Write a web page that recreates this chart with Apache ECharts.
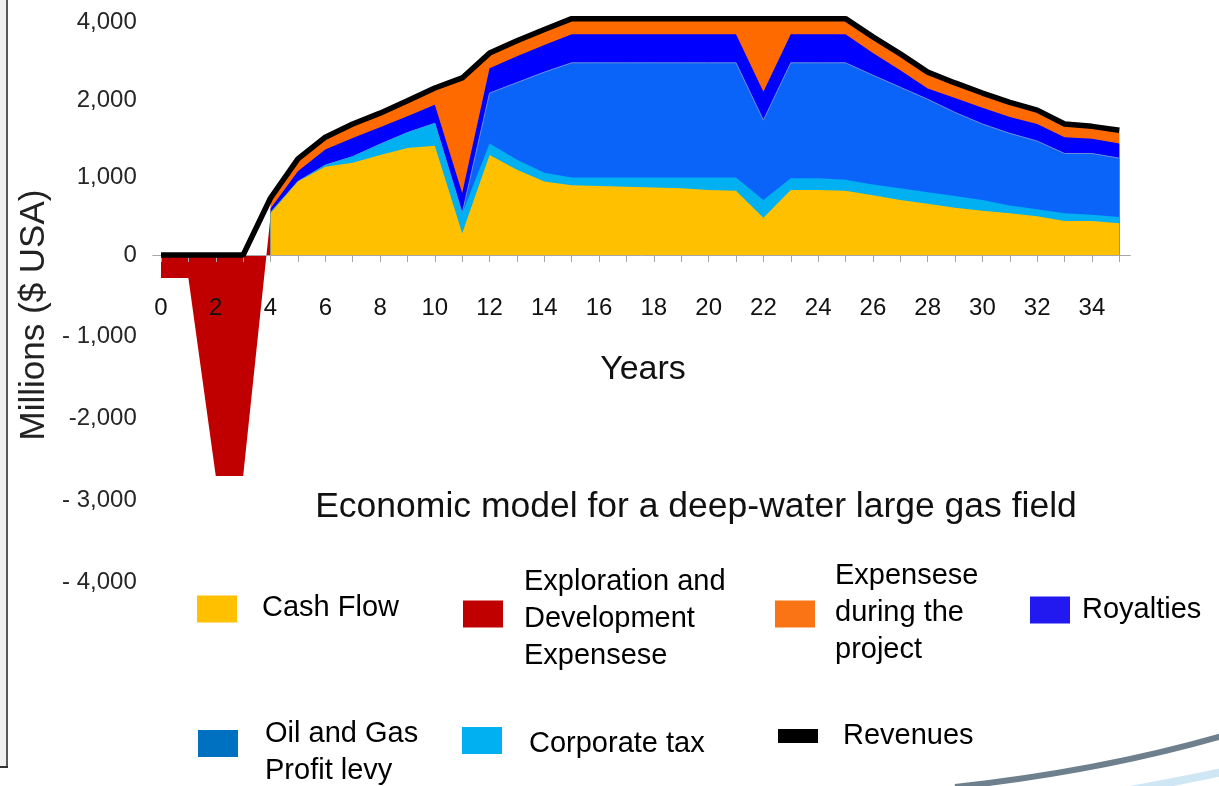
<!DOCTYPE html>
<html>
<head>
<meta charset="utf-8">
<script src="https://cdn.jsdelivr.net/npm/echarts@6/dist/echarts.min.js"></script>
<style>
html,body{margin:0;padding:0;background:#ffffff;}
#chart{width:1219px;height:786px;}
</style>
</head>
<body>
<div id="chart"></div>
<script>
// ---------------- DATA (millions of $ USA, years 0..35) ----------------
const years = [0,1,2,3,4,5,6,7,8,9,10,11,12,13,14,15,16,17,18,19,20,21,22,23,24,25,26,27,28,29,30,31,32,33,34,35];
const xLabelYears = [0,2,4,6,8,10,12,14,16,18,20,22,24,26,28,30,32,34];

const cashFlow = [null,null,null,null,540,950,1140,1190,1290,1380,1410,280,1290,1100,950,900,890,880,870,860,840,830,480,840,840,830,770,710,660,610,570,540,500,440,440,410];
const corporateTax = [null,null,null,null,10,0,20,80,140,200,290,260,150,130,110,100,110,120,130,140,160,170,230,150,150,140,140,150,150,150,140,100,90,100,80,80];
const profitLevy = [null,null,null,null,0,0,0,0,0,0,0,0,740,1220,1660,1960,1960,1960,1960,1960,1960,1960,1030,1970,1970,1990,1730,1470,1210,1080,980,930,880,770,790,760];
const royalties = [null,null,null,null,50,130,200,240,220,210,240,260,640,680,700,740,740,740,740,740,740,740,470,740,740,740,570,440,280,210,210,210,220,210,190,190];
const projectExpenses = [null,null,null,null,135,160,160,180,180,200,370,1770,390,400,400,400,400,400,400,400,400,400,1890,400,400,400,420,420,420,390,280,190,180,170,160,170];
const explorationDev = [-280,-280,-2700,-2700,500,null,null,null,null,null,null,null,null,null,null,null,null,null,null,null,null,null,null,null,null,null,null,null,null,null,null,null,null,null,null,null];
const revenues = [0,0,0,0,735,1240,1520,1690,1830,1990,2310,2570,3210,3530,3820,4100,4100,4100,4100,4100,4100,4100,4100,4100,4100,4100,3630,3190,2720,2440,2180,1970,1870,1690,1660,1610];

const yTickValues = [-4000,-3000,-2000,-1000,0,1000,2000,4000];
const yTickLabels = ['- 4,000','- 3,000','-2,000','- 1,000','0','1,000','2,000','4,000'];

const seriesNames = ['Cash Flow','Exploration and Development Expensese','Expensese during the project','Royalties','Oil and Gas Profit levy','Corporate tax','Revenues'];
const legendTexts = ['Cash Flow','Exploration and\nDevelopment\nExpensese','Expensese\nduring the\nproject','Royalties','Oil and Gas\nProfit levy','Corporate tax','Revenues'];

// ---------------- AXIS SCALE (the reference axis is labelled non-uniformly) ----------------
// positive ticks 0,1000,2000,4000 sit one step apart; negative thousands are drawn ~5.5% taller
const NEG_STRETCH = 1.0555;
function toAxis(v) {
  if (v === null || v === undefined) return null;
  if (v < 0) return v / 1000 * NEG_STRETCH;
  const pos = yTickValues.filter(t => t >= 0);
  for (let i = 0; i < pos.length - 1; i++) {
    if (v <= pos[i + 1]) return i + (v - pos[i]) / (pos[i + 1] - pos[i]);
  }
  const n = pos.length - 1;
  return n + (v - pos[n]) / (pos[n] - pos[n - 1]);
}
function labelFor(u) {
  for (let i = 0; i < yTickValues.length; i++) {
    if (Math.abs(toAxis(yTickValues[i]) - u) < 1e-6) return yTickLabels[i];
  }
  return '';
}

// stacked boundaries (cash flow at bottom, project expenses on top)
const stackOrder = [cashFlow, corporateTax, profitLevy, royalties, projectExpenses];
const cumulative = [];
let running = years.map(() => 0);
stackOrder.forEach(arr => {
  running = running.map((r, i) => arr[i] === null ? null : (r || 0) + arr[i]);
  cumulative.push(running.slice());
});

function pairs(arr) { return years.map((y, i) => [y, toAxis(arr[i])]); }

const FONT = '"Liberation Sans", Arial, Helvetica, sans-serif';

const colors = {
  cash: '#FFC000', expl: '#C00000', exp: '#FF6A00', roy: '#0000FF', levy: '#0A64FA', tax: '#00B0F0', rev: '#000000'
};

function areaSeries(name, data, color, z) {
  return {
    name: name, type: 'line', data: pairs(data), symbol: 'none', showSymbol: false,
    lineStyle: { width: 0 }, itemStyle: { color: color },
    areaStyle: { color: color, opacity: 1 }, z: z, silent: true
  };
}

const series = [
  areaSeries(seriesNames[1], explorationDev, colors.expl, 1),
  areaSeries(seriesNames[2], cumulative[4], colors.exp, 2),
  areaSeries(seriesNames[3], cumulative[3], colors.roy, 3),
  Object.assign(areaSeries(seriesNames[4], cumulative[2], colors.levy, 4), { lineStyle: { width: 1, color: '#6f8fd8' } }),
  areaSeries(seriesNames[5], cumulative[1], colors.tax, 5),
  areaSeries(seriesNames[0], cumulative[0], colors.cash, 6),
  {
    name: seriesNames[6], type: 'line', data: pairs(revenues), symbol: 'none', showSymbol: false,
    lineStyle: { color: colors.rev, width: 5.5 }, itemStyle: { color: colors.rev }, z: 30, silent: true
  }
];

// legend boxes: [nameIndex, left, top, iconColor, textLeftPad, iconHeight, textShift(px, + = down)]
const legendLayout = [
  [0, 197, 589.5, '#FFC000', 20, 27, -1],
  [1, 463, 553.5, '#C00000', 16, 27, 5],
  [2, 775, 557.5, '#FA7415', 15, 27, -1],
  [3, 1030, 591.5, '#2218F0', 7, 27, 0],
  [4, 198, 697.5, '#0070C0', 22, 27, 9],
  [5, 462, 718.5, '#00B0F0', 22, 27, 3.5],
  [6, 778, 717.5, '#000000', 20, 14, 0]
];
const legends = legendLayout.map(l => ({
  left: l[1], top: l[2], padding: 0, orient: 'vertical',
  itemWidth: 40, itemHeight: l[5], icon: 'rect',
  selectedMode: false,
  itemStyle: { borderWidth: 0 },
  data: [{ name: seriesNames[l[0]], icon: 'rect', itemStyle: { color: l[3], borderWidth: 0 } }],
  formatter: name => {
    const t = legendTexts[seriesNames.indexOf(name)];
    if (l[6] > 0) return '{s| }\n' + t;
    if (l[6] < 0) return t + '\n{s| }';
    return t;
  },
  textStyle: {
    fontFamily: FONT, fontSize: 29, color: '#000', lineHeight: 37, padding: [0, 0, 0, l[4]],
    rich: { s: { fontSize: 1, lineHeight: Math.abs(l[6]) * 2 } }
  }
}));

const chart = echarts.init(document.getElementById('chart'), null, { renderer: 'canvas' });
chart.setOption({
  animation: false,
  backgroundColor: '#ffffff',
  grid: [
    { left: 152.8, right: 88.7, top: 10.1, bottom: 186.1, containLabel: false },
    // label-only grid whose bottom edge is the zero line
    { left: 152.8, right: 88.7, top: 100, height: 155, containLabel: false }
  ],
  xAxis: [
    {
      type: 'value', min: -0.3, max: 35.4, gridIndex: 0, z: 20,
      axisLine: { onZero: true, lineStyle: { color: '#a6a6a6', width: 1 } },
      axisTick: { show: true, customValues: years, length: 7, lineStyle: { color: '#a6a6a6' } },
      axisLabel: { show: false },
      splitLine: { show: false }
    },
    {
      type: 'value', min: -0.3, max: 35.4, gridIndex: 1, z: 20,
      axisLine: { show: false }, axisTick: { show: false }, splitLine: { show: false },
      axisLabel: { customValues: xLabelYears, fontFamily: FONT, fontSize: 24, color: '#111', margin: 41 }
    }
  ],
  yAxis: [
    {
      type: 'value', min: -4.45, max: 3.16, gridIndex: 0,
      axisLine: { show: false }, axisTick: { show: false }, splitLine: { show: false },
      axisLabel: {
        customValues: yTickValues.map(toAxis),
        formatter: v => labelFor(v),
        fontFamily: FONT, fontSize: 24, color: '#262626', margin: 16
      }
    },
    {
      type: 'value', min: 0, max: 1, gridIndex: 1, show: false
    }
  ],
  legend: legends,
  series: series,
  graphic: [
    { type: 'rect', shape: { x: 0, y: 0, width: 6, height: 766 }, style: { fill: '#f0f0f0' }, silent: true },
    { type: 'line', shape: { x1: 7, y1: 0, x2: 7, y2: 767 }, style: { stroke: '#595959', lineWidth: 2 }, silent: true },
    { type: 'line', shape: { x1: 0, y1: 767, x2: 8, y2: 767 }, style: { stroke: '#333333', lineWidth: 2 }, silent: true },
    { type: 'bezierCurve', shape: { x1: 955, y1: 787, x2: 1222, y2: 736, cpx1: 1100, cpy1: 771 }, style: { stroke: '#6e7f8d', lineWidth: 6, fill: null }, silent: true },
    { type: 'bezierCurve', shape: { x1: 1130, y1: 790, x2: 1222, y2: 772, cpx1: 1180, cpy1: 781 }, style: { stroke: '#cfe7f5', lineWidth: 8, fill: null }, silent: true },
    { type: 'text', x: 34, y: 315, rotation: Math.PI / 2, style: { text: 'Millions ($ USA)', fontFamily: FONT, fontSize: 35, fill: '#222', align: 'center', verticalAlign: 'middle' }, silent: true },
    { type: 'text', x: 643, y: 370, style: { text: 'Years', fontFamily: FONT, fontSize: 34, fill: '#111', align: 'center', verticalAlign: 'middle' }, silent: true },
    { type: 'text', x: 696, y: 507, style: { text: 'Economic model for a deep-water large gas field', fontFamily: FONT, fontSize: 35.5, fill: '#111', align: 'center', verticalAlign: 'middle' }, silent: true }
  ]
});
</script>
</body>
</html>
